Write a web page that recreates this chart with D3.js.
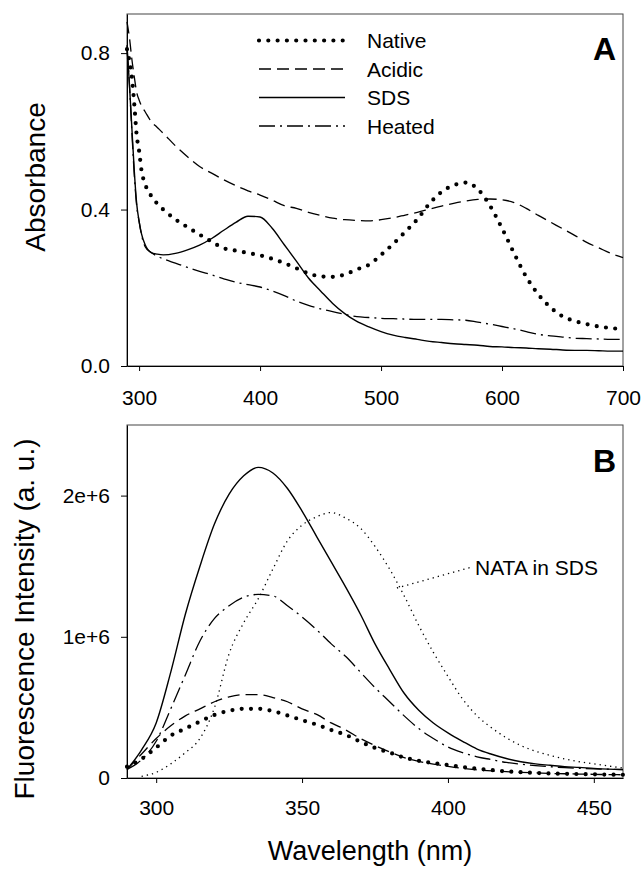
<!DOCTYPE html>
<html lang="en">
<head>
<meta charset="UTF-8">
<title>Absorbance and fluorescence spectra</title>
<script src="https://d3js.org/d3.v7.min.js"></script>
<style>
  body { margin: 0; background: #fff; }
  svg { display: block; font-family: "Liberation Sans", Arial, sans-serif; }
  .tick text { font-size: 21px; fill: #000; }
  .tick line, .domain { stroke: #000; }
</style>
</head>
<body>
<svg width="644" height="875"></svg>
<script>
// ---- panel A: absorbance ----
const waveA = [290, 292, 294, 296, 298, 300, 302, 305, 310, 315, 320, 330, 340, 350, 360, 370,
  380, 390, 400, 410, 420, 430, 440, 450, 460, 470, 480, 490, 500, 510, 520, 530, 540, 550,
  560, 570, 580, 590, 600, 610, 620, 630, 640, 650, 660, 670, 680, 690, 700];
const nativeA = [0.81, 0.78, 0.74, 0.67, 0.59, 0.55, 0.50, 0.465, 0.435, 0.415, 0.40, 0.375, 0.355,
  0.336, 0.318, 0.301, 0.295, 0.289, 0.283, 0.274, 0.263, 0.25, 0.237, 0.229, 0.228, 0.234,
  0.247, 0.259, 0.284, 0.312, 0.343, 0.375, 0.415, 0.445, 0.462, 0.469, 0.452, 0.41, 0.352,
  0.288, 0.228, 0.183, 0.15, 0.127, 0.115, 0.107, 0.101, 0.097, 0.094];
const acidicA = [0.88, 0.84, 0.785, 0.74, 0.70, 0.68, 0.665, 0.65, 0.625, 0.61, 0.595, 0.563,
  0.535, 0.51, 0.493, 0.476, 0.461, 0.448, 0.437, 0.424, 0.41, 0.403, 0.393, 0.385, 0.378,
  0.374, 0.372, 0.371, 0.374, 0.379, 0.386, 0.393, 0.401, 0.409, 0.416, 0.422, 0.426, 0.427,
  0.425, 0.418, 0.403, 0.385, 0.368, 0.351, 0.334, 0.316, 0.302, 0.288, 0.277];
const sdsA = [0.82, 0.72, 0.61, 0.50, 0.415, 0.37, 0.338, 0.31, 0.29, 0.286, 0.284, 0.288, 0.297,
  0.309, 0.326, 0.347, 0.367, 0.383, 0.381, 0.352, 0.31, 0.268, 0.225, 0.192, 0.16, 0.134,
  0.114, 0.1, 0.088, 0.079, 0.073, 0.068, 0.063, 0.06, 0.057, 0.055, 0.053, 0.05, 0.049,
  0.047, 0.046, 0.044, 0.043, 0.041, 0.04, 0.04, 0.039, 0.038, 0.038];
const heatedA = [0.81, 0.72, 0.60, 0.49, 0.41, 0.37, 0.335, 0.305, 0.29, 0.281, 0.274, 0.263,
  0.252, 0.242, 0.233, 0.223, 0.214, 0.208, 0.202, 0.192, 0.18, 0.166, 0.155, 0.146, 0.139,
  0.132, 0.126, 0.124, 0.122, 0.121, 0.12, 0.119, 0.119, 0.119, 0.118, 0.117, 0.112, 0.107,
  0.101, 0.095, 0.088, 0.081, 0.077, 0.074, 0.071, 0.07, 0.069, 0.068, 0.068];
const xTicksA = [300, 400, 500, 600, 700];
const yTicksA = [0, 0.4, 0.8];

// ---- panel B: fluorescence ----
const waveB = [290, 295, 300, 305, 310, 315, 320, 325, 330, 335, 340, 345, 350, 355, 360, 365,
  370, 375, 380, 385, 390, 395, 400, 405, 410, 415, 420, 425, 430, 435, 440, 445, 450, 455, 460];
const nativeB = [0.08e6, 0.135e6, 0.215e6, 0.30e6, 0.35e6, 0.40e6, 0.447e6, 0.476e6, 0.49e6,
  0.49e6, 0.474e6, 0.443e6, 0.41e6, 0.378e6, 0.34e6, 0.305e6, 0.257e6, 0.213e6, 0.18e6,
  0.145e6, 0.122e6, 0.106e6, 0.092e6, 0.078e6, 0.066e6, 0.056e6, 0.047e6, 0.041e6, 0.036e6,
  0.032e6, 0.03e6, 0.028e6, 0.026e6, 0.024e6, 0.023e6];
const acidicB = [0.06e6, 0.17e6, 0.28e6, 0.37e6, 0.44e6, 0.49e6, 0.54e6, 0.575e6, 0.59e6,
  0.59e6, 0.57e6, 0.54e6, 0.49e6, 0.45e6, 0.39e6, 0.34e6, 0.28e6, 0.23e6, 0.185e6, 0.145e6,
  0.118e6, 0.098e6, 0.082e6, 0.068e6, 0.058e6, 0.05e6, 0.045e6, 0.04e6, 0.036e6, 0.032e6,
  0.03e6, 0.028e6, 0.026e6, 0.024e6, 0.023e6];
const sdsB = [0.06e6, 0.2e6, 0.39e6, 0.75e6, 1.16e6, 1.5e6, 1.8e6, 2.01e6, 2.14e6, 2.2e6,
  2.16e6, 2.05e6, 1.89e6, 1.71e6, 1.53e6, 1.35e6, 1.16e6, 0.95e6, 0.77e6, 0.6e6, 0.48e6,
  0.39e6, 0.32e6, 0.26e6, 0.205e6, 0.168e6, 0.138e6, 0.115e6, 0.1e6, 0.09e6, 0.08e6,
  0.075e6, 0.068e6, 0.063e6, 0.06e6];
const heatedB = [0.06e6, 0.13e6, 0.26e6, 0.49e6, 0.73e6, 0.97e6, 1.13e6, 1.22e6, 1.28e6,
  1.30e6, 1.29e6, 1.22e6, 1.14e6, 1.05e6, 0.95e6, 0.86e6, 0.75e6, 0.64e6, 0.54e6, 0.44e6,
  0.35e6, 0.28e6, 0.22e6, 0.18e6, 0.15e6, 0.13e6, 0.11e6, 0.098e6, 0.088e6, 0.08e6,
  0.073e6, 0.068e6, 0.064e6, 0.062e6, 0.06e6];
const nataB = [null, 0.012e6, 0.04e6, 0.1e6, 0.18e6, 0.28e6, 0.5e6, 0.88e6, 1.1e6, 1.27e6,
  1.48e6, 1.68e6, 1.79e6, 1.85e6, 1.88e6, 1.84e6, 1.77e6, 1.64e6, 1.48e6, 1.29e6, 1.08e6,
  0.89e6, 0.72e6, 0.56e6, 0.44e6, 0.355e6, 0.285e6, 0.23e6, 0.19e6, 0.16e6, 0.135e6,
  0.115e6, 0.1e6, 0.085e6, 0.07e6];
const xTicksB = [300, 350, 400, 450];
const yTicksB = [0, 1e6, 2e6];
const yLabelsB = ['0', '1e+6', '2e+6'];

const legendNames = ['Native', 'Acidic', 'SDS', 'Heated'];

// line styles
const styles = {
  native: { width: 4.2, dash: '0 9.3', cap: 'round' },
  acidic: { width: 1.3, dash: '12 6', cap: 'butt' },
  sds:    { width: 1.4, dash: null, cap: 'butt' },
  heated: { width: 1.3, dash: '16 5 2 5', cap: 'butt' },
  nata:   { width: 1.3, dash: '1.3 4', cap: 'butt' }
};

const svg = d3.select('svg');
const left = 127, right = 623;

const xA = d3.scaleLinear().domain([290, 700]).range([left, right]);
const yA = d3.scaleLinear().domain([0, 0.9]).range([366, 14]);
const xB = d3.scaleLinear().domain([290, 460]).range([left, right]);
const yB = d3.scaleLinear().domain([0, 2.5e6]).range([778, 425]);

function frame(x, y) {
  svg.append('rect')
    .attr('x', x.range()[0]).attr('y', y.range()[1])
    .attr('width', x.range()[1] - x.range()[0])
    .attr('height', y.range()[0] - y.range()[1])
    .attr('fill', 'none').attr('stroke', '#444').attr('stroke-width', 1);
}

function drawSeries(g, x, y, wave, vals, st) {
  const line = d3.line()
    .defined((d) => d[1] != null)
    .x((d) => x(d[0]))
    .y((d) => y(d[1]))
    .curve(d3.curveMonotoneX);
  g.append('path')
    .datum(wave.map((w, i) => [w, vals[i]]))
    .attr('d', line)
    .attr('fill', 'none')
    .attr('stroke', '#000')
    .attr('stroke-width', st.width)
    .attr('stroke-linecap', st.cap)
    .attr('stroke-dasharray', st.dash);
}

// panel A
frame(xA, yA);
const gA = svg.append('g');
drawSeries(gA, xA, yA, waveA, acidicA, styles.acidic);
drawSeries(gA, xA, yA, waveA, heatedA, styles.heated);
drawSeries(gA, xA, yA, waveA, sdsA, styles.sds);
drawSeries(gA, xA, yA, waveA, nativeA, styles.native);

svg.append('g')
  .attr('transform', 'translate(0,366)')
  .call(d3.axisBottom(xA).tickValues(xTicksA).tickSize(5).tickSizeOuter(0).tickPadding(19));
svg.append('g')
  .attr('transform', `translate(${left},0)`)
  .call(d3.axisLeft(yA).tickValues(yTicksA).tickSize(6).tickSizeOuter(0).tickPadding(11)
    .tickFormat(d3.format('.1f')));

// legend
const legStyles = [styles.native, styles.acidic, styles.sds, styles.heated];
legendNames.forEach((name, i) => {
  const base = 48 + i * 28.5;
  const st = legStyles[i];
  svg.append('line')
    .attr('x1', 259).attr('x2', 345)
    .attr('y1', base - 7.5).attr('y2', base - 7.5)
    .attr('stroke', '#000')
    .attr('stroke-width', st.width)
    .attr('stroke-linecap', st.cap)
    .attr('stroke-dasharray', st.dash);
  svg.append('text')
    .attr('x', 367).attr('y', base)
    .attr('font-size', 21)
    .text(name);
});

svg.append('text')
  .attr('x', 616).attr('y', 60)
  .attr('text-anchor', 'end')
  .attr('font-size', 32).attr('font-weight', 'bold')
  .text('A');

svg.append('text')
  .attr('transform', 'translate(45,177) rotate(-90)')
  .attr('text-anchor', 'middle')
  .attr('font-size', 28)
  .text('Absorbance');

// panel B
frame(xB, yB);
const gB = svg.append('g');
drawSeries(gB, xB, yB, waveB, nataB, styles.nata);
drawSeries(gB, xB, yB, waveB, acidicB, styles.acidic);
drawSeries(gB, xB, yB, waveB, heatedB, styles.heated);
drawSeries(gB, xB, yB, waveB, sdsB, styles.sds);
drawSeries(gB, xB, yB, waveB, nativeB, styles.native);

svg.append('g')
  .attr('transform', 'translate(0,778)')
  .call(d3.axisBottom(xB).tickValues(xTicksB).tickSize(5).tickSizeOuter(0).tickPadding(17));
svg.append('g')
  .attr('transform', `translate(${left},0)`)
  .call(d3.axisLeft(yB).tickValues(yTicksB).tickSize(6).tickSizeOuter(0).tickPadding(11)
    .tickFormat((d, i) => yLabelsB[i]));

svg.append('text')
  .attr('x', 616).attr('y', 472)
  .attr('text-anchor', 'end')
  .attr('font-size', 32).attr('font-weight', 'bold')
  .text('B');

// NATA annotation with dotted leader
svg.append('line')
  .attr('x1', xB(382.5)).attr('y1', 588)
  .attr('x2', 472).attr('y2', 567)
  .attr('stroke', '#000')
  .attr('stroke-width', styles.nata.width)
  .attr('stroke-dasharray', styles.nata.dash);
svg.append('text')
  .attr('x', 475).attr('y', 575)
  .attr('font-size', 21)
  .text('NATA in SDS');

svg.append('text')
  .attr('transform', 'translate(34,619) rotate(-90)')
  .attr('text-anchor', 'middle')
  .attr('font-size', 28)
  .text('Fluorescence Intensity (a. u.)');

svg.append('text')
  .attr('x', 370).attr('y', 860)
  .attr('text-anchor', 'middle')
  .attr('font-size', 27)
  .text('Wavelength (nm)');
</script>
</body>
</html>
